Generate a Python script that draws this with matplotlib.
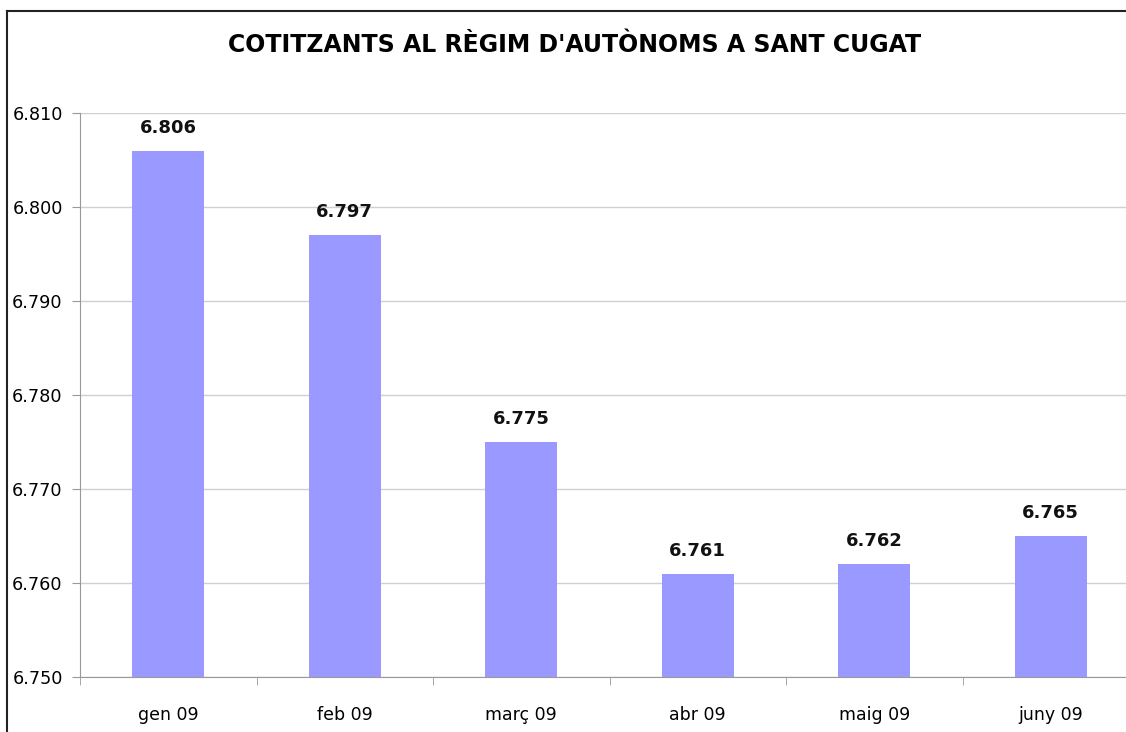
import numpy as np
import matplotlib.pyplot as plt
from matplotlib.lines import Line2D

months = ['gen 09', 'feb 09', 'març 09', 'abr 09', 'maig 09', 'juny 09']
cotitzants = [6806, 6797, 6775, 6761, 6762, 6765]
y_ticks = [6750, 6760, 6770, 6780, 6790, 6800, 6810]


def dot_thousands(v):
    return f'{int(v):,}'.replace(',', '.')


plt.rcParams['font.family'] = 'DejaVu Sans'

fig = plt.figure(figsize=(11.26, 7.32), dpi=100)
ax = fig.add_axes([80 / 1126, 1 - 677 / 732, 1059 / 1126, 564 / 732])

x = np.arange(len(months))
ax.bar(x, cotitzants, width=0.41, color='#9999ff', zorder=2)

for xi, v in zip(x, cotitzants):
    ax.annotate(dot_thousands(v), (xi, v), xytext=(0, 10), textcoords='offset points',
                ha='center', va='bottom', fontsize=13, fontweight='bold', color='#111111')

ax.set_xlim(-0.5, len(months) - 0.5)
ax.set_ylim(6750, 6810)
ax.set_yticks(y_ticks)
ax.set_yticklabels([dot_thousands(v) for v in y_ticks])
ax.set_xticks(x)
ax.set_xticklabels(months)
ax.set_xticks(np.arange(len(months) + 1) - 0.5, minor=True)
ax.tick_params(axis='x', which='major', length=0, pad=21, labelsize=12.5)
ax.tick_params(axis='x', which='minor', length=5.5, color='#999999', direction='out')
ax.tick_params(axis='y', length=5.5, color='#999999', labelsize=12.7, pad=7)
ax.grid(axis='y', color='#d0d0d0', linewidth=1, zorder=0)
for side in ['top', 'right']:
    ax.spines[side].set_visible(False)
for side in ['left', 'bottom']:
    ax.spines[side].set_color('#999999')

fig.text(575 / 1126, 1 - 45 / 732, "COTITZANTS AL RÈGIM D'AUTÒNOMS A SANT CUGAT",
         ha='center', va='center', fontsize=17, fontweight='bold')

# chart border (top and left visible)
fig.add_artist(Line2D([7.5 / 1126, 1], [1 - 10.5 / 732] * 2, color='#222222', lw=1.5))
fig.add_artist(Line2D([7.5 / 1126] * 2, [0, 1 - 10.5 / 732], color='#222222', lw=1.5))

fig.savefig('out.png', dpi=100)
